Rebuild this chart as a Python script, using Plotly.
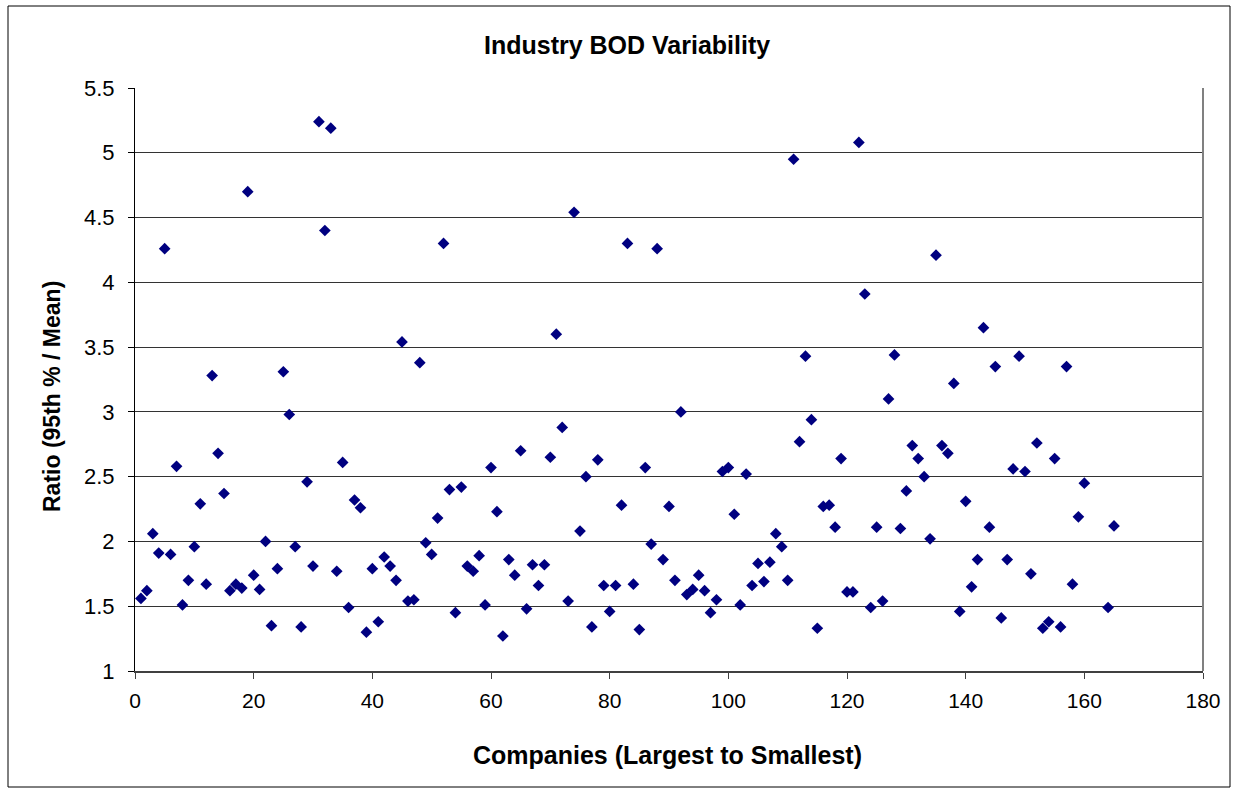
import plotly.graph_objects as go

# Company rank (largest to smallest) and ratio of 95th percentile BOD to mean BOD
company = list(range(1, 161)) + [164, 165]
ratio = [
    1.56, 1.62, 2.06, 1.91, 4.26, 1.90, 2.58, 1.51, 1.70, 1.96,
    2.29, 1.67, 3.28, 2.68, 2.37, 1.62, 1.67, 1.64, 4.70, 1.74,
    1.63, 2.00, 1.35, 1.79, 3.31, 2.98, 1.96, 1.34, 2.46, 1.81,
    5.24, 4.40, 5.19, 1.77, 2.61, 1.49, 2.32, 2.26, 1.30, 1.79,
    1.38, 1.88, 1.81, 1.70, 3.54, 1.54, 1.55, 3.38, 1.99, 1.90,
    2.18, 4.30, 2.40, 1.45, 2.42, 1.81, 1.77, 1.89, 1.51, 2.57,
    2.23, 1.27, 1.86, 1.74, 2.70, 1.48, 1.82, 1.66, 1.82, 2.65,
    3.60, 2.88, 1.54, 4.54, 2.08, 2.50, 1.34, 2.63, 1.66, 1.46,
    1.66, 2.28, 4.30, 1.67, 1.32, 2.57, 1.98, 4.26, 1.86, 2.27,
    1.70, 3.00, 1.59, 1.63, 1.74, 1.62, 1.45, 1.55, 2.54, 2.57,
    2.21, 1.51, 2.52, 1.66, 1.83, 1.69, 1.84, 2.06, 1.96, 1.70,
    4.95, 2.77, 3.43, 2.94, 1.33, 2.27, 2.28, 2.11, 2.64, 1.61,
    1.61, 5.08, 3.91, 1.49, 2.11, 1.54, 3.10, 3.44, 2.10, 2.39,
    2.74, 2.64, 2.50, 2.02, 4.21, 2.74, 2.68, 3.22, 1.46, 2.31,
    1.65, 1.86, 3.65, 2.11, 3.35, 1.41, 1.86, 2.56, 3.43, 2.54,
    1.75, 2.76, 1.33, 1.38, 2.64, 1.34, 3.35, 1.67, 2.19, 2.45,
    1.49, 2.12,
]

x_ticks = list(range(0, 181, 20))
y_ticks = [1, 1.5, 2, 2.5, 3, 3.5, 4, 4.5, 5, 5.5]

FONT = "Arial, Liberation Sans, sans-serif"

fig = go.Figure(
    go.Scatter(
        x=company,
        y=ratio,
        mode="markers",
        marker=dict(symbol="diamond", size=9, color="#000080",
                    line=dict(width=0)),
        hoverinfo="x+y",
    )
)

fig.update_layout(
    width=1238,
    height=792,
    margin=dict(l=135, r=35, t=88, b=121),
    paper_bgcolor="white",
    plot_bgcolor="white",
    showlegend=False,
    font=dict(family=FONT, color="black"),
    xaxis=dict(
        range=[0, 180],
        tickvals=x_ticks,
        ticks="outside",
        ticklen=6,
        tickcolor="#404040",
        showgrid=False,
        zeroline=False,
        showline=True,
        linecolor="#404040",
        linewidth=2,
        ticklabelstandoff=4,
        tickfont=dict(size=21, family=FONT),
    ),
    yaxis=dict(
        range=[1, 5.5],
        tickvals=y_ticks,
        ticks="outside",
        ticklen=6,
        tickcolor="black",
        showgrid=True,
        gridcolor="#333333",
        gridwidth=1,
        zeroline=False,
        showline=True,
        linecolor="black",
        linewidth=1,
        ticklabelstandoff=9,
        tickfont=dict(size=22, family=FONT),
    ),
    shapes=[
        # right edge of the plotting area
        dict(type="line", xref="paper", yref="paper", x0=1, x1=1, y0=0, y1=1,
             line=dict(color="#808080", width=2)),
        # chart frame
        dict(type="rect", xref="paper", yref="paper",
             x0=(8 - 135) / 1068, x1=(1230 - 135) / 1068,
             y0=(671 - 787) / 583, y1=(671 - 6) / 583,
             line=dict(color="black", width=1), fillcolor="rgba(0,0,0,0)",
             layer="below"),
    ],
    annotations=[
        dict(text="<b>Industry BOD Variability</b>", xref="paper", yref="paper",
             x=(627 - 135) / 1068, y=(671 - 45) / 583, xanchor="center",
             yanchor="middle", showarrow=False, font=dict(size=25, family=FONT)),
        dict(text="<b>Companies (Largest to Smallest)</b>", xref="paper", yref="paper",
             x=(667 - 135) / 1068, y=(671 - 755) / 583, xanchor="center",
             yanchor="middle", showarrow=False, font=dict(size=25, family=FONT)),
        dict(text="<b>Ratio (95th % / Mean)</b>", xref="paper", yref="paper",
             x=(52 - 135) / 1068, y=(671 - 397) / 583, xanchor="center",
             yanchor="middle", textangle=-90, showarrow=False,
             font=dict(size=23, family=FONT)),
    ],
)

fig.write_html("out.html")
